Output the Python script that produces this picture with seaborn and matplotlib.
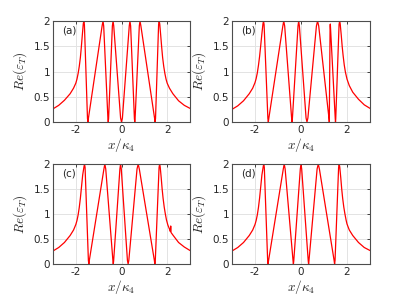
import matplotlib
matplotlib.use("Agg")
import matplotlib.pyplot as plt
import seaborn as sns
import pandas as pd

sns.set_style("white")
plt.rcParams['font.family'] = ['DejaVu Sans']
plt.rcParams['mathtext.fontset'] = 'cm'

# ---- data (x/kappa_4, Re(eps_T)) ----
x_a = [-3.0, -2.75, -2.5, -2.25, -2.1, -2.0, -1.95, -1.9, -1.85, -1.8, -1.76, -1.72, -1.675, -1.65, -1.625,
       -1.49, -1.47, -1.45, -0.85, -0.81, -0.78, -0.595, -0.58, -0.565,
       -0.40, -0.37, -0.34, -0.04, 0.0, 0.04, 0.34, 0.37, 0.40,
       0.565, 0.58, 0.595, 0.78, 0.81, 0.85, 1.45, 1.47, 1.49,
       1.625, 1.65, 1.675, 1.72, 1.76, 1.8, 1.85, 1.9, 1.95, 2.0, 2.1, 2.25, 2.5, 2.75, 3.0]
y_a = [0.26, 0.33, 0.43, 0.56, 0.67, 0.77, 0.85, 0.96, 1.10, 1.28, 1.48, 1.70, 1.94, 2.0, 1.93,
       0.07, 0.0, 0.07, 1.9, 2.0, 1.9, 0.07, 0.0, 0.07,
       1.9, 2.0, 1.9, 0.08, 0.0, 0.08, 1.9, 2.0, 1.9,
       0.07, 0.0, 0.07, 1.9, 2.0, 1.9, 0.07, 0.0, 0.07,
       1.93, 2.0, 1.94, 1.70, 1.48, 1.28, 1.10, 0.96, 0.85, 0.77, 0.67, 0.56, 0.42, 0.33, 0.27]

x_b = [-3.0, -2.75, -2.5, -2.25, -2.1, -2.0, -1.95, -1.9, -1.85, -1.8, -1.75, -1.7, -1.655, -1.63, -1.605,
       -1.44, -1.42, -1.40, -0.79, -0.75, -0.71, -0.405, -0.39, -0.375,
       -0.13, -0.10, -0.07, 0.22, 0.26, 0.30, 0.67, 0.72, 0.77,
       1.22, 1.23, 1.265, 1.275, 1.285, 1.49, 1.50, 1.51,
       1.655, 1.68, 1.705, 1.75, 1.79, 1.83, 1.88, 1.93, 2.0, 2.1, 2.25, 2.5, 2.75, 3.0]
y_b = [0.25, 0.32, 0.42, 0.56, 0.67, 0.78, 0.86, 0.97, 1.12, 1.30, 1.52, 1.75, 1.94, 2.0, 1.93,
       0.07, 0.0, 0.07, 1.9, 2.0, 1.9, 0.06, 0.0, 0.06,
       1.9, 2.0, 1.9, 0.08, 0.0, 0.08, 1.9, 2.0, 1.9,
       0.06, 0.0, 1.90, 1.94, 1.85, 0.06, 0.0, 0.06,
       1.93, 2.0, 1.94, 1.72, 1.50, 1.32, 1.13, 0.99, 0.85, 0.72, 0.59, 0.45, 0.34, 0.27]

x_c = [-3.0, -2.75, -2.5, -2.25, -2.1, -2.0, -1.95, -1.9, -1.85, -1.8, -1.75, -1.7, -1.645, -1.62, -1.595,
       -1.45, -1.43, -1.41, -0.77, -0.73, -0.69, -0.375, -0.36, -0.345,
       -0.07, -0.04, -0.01, 0.26, 0.29, 0.32, 0.68, 0.73, 0.78,
       1.44, 1.46, 1.48, 1.645, 1.67, 1.695, 1.74, 1.78, 1.82, 1.87, 1.92, 1.97, 2.03, 2.1,
       2.14, 2.155, 2.17, 2.25, 2.5, 2.75, 3.0]
y_c = [0.26, 0.33, 0.43, 0.57, 0.68, 0.79, 0.87, 0.98, 1.13, 1.32, 1.55, 1.78, 1.94, 2.0, 1.93,
       0.07, 0.0, 0.07, 1.9, 2.0, 1.9, 0.06, 0.0, 0.06,
       1.9, 2.0, 1.9, 0.07, 0.0, 0.07, 1.9, 2.0, 1.9,
       0.07, 0.0, 0.07, 1.93, 2.0, 1.94, 1.72, 1.50, 1.32, 1.14, 1.0, 0.88, 0.78, 0.70,
       0.65, 0.76, 0.63, 0.58, 0.43, 0.34, 0.27]

x_d = [-3.0, -2.75, -2.5, -2.25, -2.1, -2.0, -1.95, -1.9, -1.85, -1.8, -1.75, -1.7, -1.645, -1.62, -1.595,
       -1.45, -1.43, -1.41, -0.77, -0.73, -0.69, -0.345, -0.33, -0.315,
       -0.03, 0.0, 0.03, 0.315, 0.33, 0.345, 0.70, 0.75, 0.80,
       1.44, 1.46, 1.48, 1.635, 1.66, 1.685, 1.73, 1.77, 1.81, 1.86, 1.91, 1.96, 2.0,
       2.1, 2.25, 2.5, 2.75, 3.0]
y_d = [0.26, 0.33, 0.43, 0.57, 0.68, 0.79, 0.87, 0.98, 1.13, 1.32, 1.55, 1.78, 1.94, 2.0, 1.93,
       0.07, 0.0, 0.07, 1.9, 2.0, 1.9, 0.06, 0.0, 0.06,
       1.9, 2.0, 1.9, 0.06, 0.0, 0.06, 1.9, 2.0, 1.9,
       0.07, 0.0, 0.07, 1.93, 2.0, 1.94, 1.72, 1.50, 1.32, 1.14, 1.0, 0.88, 0.80,
       0.68, 0.57, 0.43, 0.33, 0.27]

panel_labels = ["(a)", "(b)", "(c)", "(d)"]
x_ticks = [-2, 0, 2]
y_ticks = [0, 0.5, 1, 1.5, 2]

series = [(x_a, y_a), (x_b, y_b), (x_c, y_c), (x_d, y_d)]

fig = plt.figure(figsize=(4.09, 3.0), dpi=100)
W, H = 409.0, 300.0
boxes = [(53, 21, 137, 101), (232, 21, 138, 101),
         (53, 164, 137, 100), (232, 164, 138, 100)]

for (xs, ys), lab, (l, t, w, h) in zip(series, panel_labels, boxes):
    ax = fig.add_axes([l / W, 1 - (t + h) / H, w / W, h / H])
    df = pd.DataFrame({"x": xs, "y": ys})
    sns.lineplot(data=df, x="x", y="y", ax=ax, color="#ff0000", lw=0.9,
                 estimator=None, sort=False)
    ax.set_xlim(-3, 3)
    ax.set_ylim(0, 2)
    ax.set_xticks(x_ticks)
    ax.set_yticks(y_ticks)
    ax.set_xticklabels([str(v) for v in x_ticks])
    ax.set_yticklabels(["0", "0.5", "1", "1.5", "2"])
    ax.grid(True, color="#e3e3e3", lw=0.7)
    ax.set_axisbelow(True)
    ax.tick_params(direction="in", length=2.5, width=0.6, labelsize=7.5,
                   top=True, right=True, colors="#262626", pad=2)
    for sp in ax.spines.values():
        sp.set_color("#4d4d4d")
        sp.set_linewidth(0.8)
        sp.set_visible(True)
    ax.set_xlabel(r"$x/\kappa_4$", fontsize=9.5, labelpad=1)
    ax.set_ylabel(r"$Re(\varepsilon_T)$", fontsize=9.5, labelpad=3)
    ax.text(-2.6, 1.82, lab, fontsize=7.5, va="center", ha="left")

fig.savefig("out.png", dpi=100)
